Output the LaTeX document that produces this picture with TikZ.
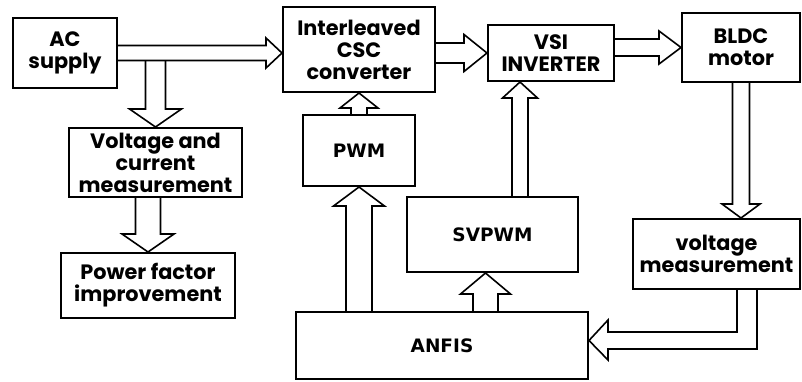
\documentclass[tikz,border=0pt]{standalone}
\usepackage{fontspec}
\setmainfont{Poppins}
\newfontfamily\capsfont{DejaVu Sans}
\usetikzlibrary{calc}
\pgfdeclarelayer{back}
\pgfsetlayers{back,main}
\tikzstyle{block} = [draw=black, line width=2pt, fill=white, align=center, inner sep=1pt, font=\bfseries\fontsize{20.8}{22}\selectfont]
\tikzstyle{capsblock} = [block, font=\capsfont\bfseries\fontsize{18.5}{22}\selectfont]
\tikzstyle{fatarrow} = [draw=black, line width=1.6pt, fill=white, line join=miter]
% hollow block arrow: from, to, shaft half width, head half width, head length
\newcommand{\blockarrow}[5]{%
  \path #1 coordinate (baA) #2 coordinate (baB);
  \coordinate (baC) at ($(baB)!#5pt!(baA)$);
  \draw [fatarrow] ($(baA)!#3pt!90:(baB)$) -- ($(baC)!#3pt!-90:(baA)$) -- ($(baC)!#4pt!-90:(baA)$) -- (baB) -- ($(baC)!#4pt!90:(baA)$) -- ($(baC)!#3pt!90:(baA)$) -- ($(baA)!#3pt!-90:(baB)$);
}

\begin{document}
\begin{tikzpicture}[x=1pt, y=-1pt]
	\useasboundingbox (0,0) rectangle (802,381);
	% top row
	\node (ac) [block, minimum width=104pt, minimum height=70pt] at (65,53) {AC\\supply};
	\node (ics) [block, minimum width=152pt, minimum height=85pt] at (359,49.5) {Interleaved\\CSC\\converter};
	\node (vsi) [block, minimum width=126pt, minimum height=56pt] at (551,53) {VSI\\INVERTER};
	\node (bldc) [block, minimum width=118pt, minimum height=69pt] at (741,47.5) {BLDC\\motor};
	% left column
	\node (vcm) [block, minimum width=173pt, minimum height=69pt] at (155.5,162.5) {Voltage and\\current\\measurement};
	\node (pfi) [block, minimum width=174pt, minimum height=65pt] at (148,285.5) {Power factor\\improvement};
	% control part
	\node (pwm) [capsblock, minimum width=112pt, minimum height=71pt] at (359,150.5) {PWM};
	\node (svpwm) [capsblock, minimum width=171pt, minimum height=75pt] at (492.5,234.5) {SVPWM};
	\node (vm) [block, minimum width=167pt, minimum height=70pt] at (716.5,254) {voltage\\measurement};
	\node (anfis) [capsblock, minimum width=292pt, minimum height=67pt] at (442,345.5) {ANFIS};
	\coordinate (svout) at ($(svpwm.north)+(27.5,0)$);
	\coordinate (svin) at ($(svpwm.south)+(-7,0)$);
	\begin{pgfonlayer}{back}
		\blockarrow{(vcm.north |- ac.east)}{(vcm.north)}{10}{26}{18}
		\blockarrow{(ac.east)}{(ac.east -| ics.west)}{7.5}{15}{16}
		\blockarrow{(pfi.north |- vcm.south)}{(pfi.north)}{12.5}{26}{18}
		\blockarrow{(vsi.west -| ics.east)}{(vsi.west)}{10}{18.5}{23}
		\blockarrow{(bldc.west -| vsi.east)}{(bldc.west)}{8.5}{16.5}{22}
		\blockarrow{(bldc.south)}{(bldc.south |- vm.north)}{8.5}{19}{14}
		\blockarrow{(pwm.south |- anfis.north)}{(pwm.south)}{13}{25.5}{19}
		\blockarrow{(pwm.north)}{(ics.south)}{8}{19}{15}
		\blockarrow{(svout)}{(svout |- vsi.south)}{8}{17.5}{16}
		\blockarrow{(svin |- anfis.north)}{(svin)}{12.5}{25}{21}
		% feedback to ANFIS
		\draw [fatarrow] ($(vm.south)+(20.5,0)$) |- ($(anfis.east)+(19,-13.5)$) -- ++(0,-12) -- ($(anfis.east)+(0,-5)$) -- ++(19,19.5) -- ++(0,-11) -| ($(vm.south)+(40.5,0)$);
	\end{pgfonlayer}
\end{tikzpicture}
\end{document}
